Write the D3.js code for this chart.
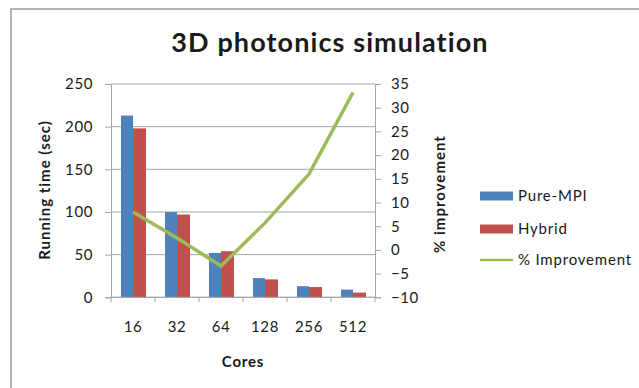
<!DOCTYPE html>
<html><head><meta charset="utf-8">
<script src="https://cdn.jsdelivr.net/npm/d3@7"></script>
<style>body{margin:0;background:#fff;} text{font-family:Lato,"Open Sans",sans-serif;fill:#1a1a1a;}</style>
</head><body>
<svg id="c" width="639" height="388"></svg>
<script>
const categories = ["16","32","64","128","256","512"];
const pureMPI = [213, 100, 52, 22.5, 13, 9];
const hybrid = [198, 97, 54, 21, 12, 5.5];
const improvement = [8, 2.5, -3.4, 5.7, 16, 33.2];
const leftTicks = [0,50,100,150,200,250];
const rightTicks = [-10,-5,0,5,10,15,20,25,30,35];
const seriesNames = ["Pure-MPI","Hybrid","% Improvement"];
const colors = ["#4F81BD","#C0504D","#9BBB59"];

const svg = d3.select("#c");
const L=111, R=375, T=84, B=297.3;
const x = d3.scaleBand().domain(categories).range([L,R]).padding(0);
const y = d3.scaleLinear().domain([0,250]).range([B,T]);
const y2 = d3.scaleLinear().domain([-10,35]).range([B,T]);

// frame
svg.append("path").attr("d","M11,388 L11,9 L639,9").attr("fill","none").attr("stroke","#b3b3b3").attr("stroke-width",2);

// gridlines
svg.append("g").selectAll("line").data(leftTicks).join("line")
  .attr("x1",L).attr("x2",R).attr("y1",d=>y(d)).attr("y2",d=>y(d))
  .attr("stroke","#a6a6a6").attr("stroke-width",1);

// bars
const bw = 12;
const gb = svg.append("g");
categories.forEach((c,i)=>{
  const cx = x(c)+x.bandwidth()/2;
  gb.append("rect").attr("x",cx-bw).attr("width",bw).attr("y",y(pureMPI[i])).attr("height",y(0)-y(pureMPI[i])).attr("fill",colors[0]);
  gb.append("rect").attr("x",cx).attr("width",bw+1).attr("y",y(hybrid[i])).attr("height",y(0)-y(hybrid[i])).attr("fill",colors[1]);
});

// axes
const axL = d3.axisLeft(y).tickValues(leftTicks).tickSize(6).tickPadding(12);
const gL = svg.append("g").attr("transform",`translate(${L},0)`).call(axL);
const axR = d3.axisRight(y2).tickValues(rightTicks).tickSize(6).tickPadding(10);
const gR = svg.append("g").attr("transform",`translate(${R},0)`).call(axR);
const axB = d3.axisBottom(x).tickSize(0).tickPadding(24);
const gB = svg.append("g").attr("transform",`translate(0,${B})`).call(axB);
// bottom ticks at band boundaries
svg.append("g").selectAll("line").data(categories.concat(["_end"])).join("line")
  .attr("x1",(d,i)=>L+i*x.bandwidth()).attr("x2",(d,i)=>L+i*x.bandwidth())
  .attr("y1",B).attr("y2",B+5).attr("stroke","#a6a6a6");
[gL,gR,gB].forEach(g=>{
  g.selectAll(".domain").attr("stroke","#a6a6a6");
  g.selectAll(".tick line").attr("stroke","#a6a6a6");
  g.selectAll("text").attr("font-size",15).attr("letter-spacing",0.6).attr("fill","#1a1a1a").attr("font-family","Lato");
});
gB.select(".domain").attr("d",`M${L},0H${R}`);

// line
const line = d3.line().x((d,i)=>x(categories[i])+x.bandwidth()/2).y(d=>y2(d));
svg.append("path").datum(improvement).attr("d",line).attr("fill","none")
  .attr("stroke",colors[2]).attr("stroke-width",3.5).attr("stroke-linejoin","miter");

// titles
svg.append("text").attr("x",330).attr("y",52).attr("text-anchor","middle")
  .attr("font-size",27).attr("letter-spacing",1.1).attr("font-weight","bold").attr("fill","#0d0d0d").text("3D photonics simulation");
svg.append("text").attr("transform","translate(50,190) rotate(-90)").attr("text-anchor","middle")
  .attr("font-size",15).attr("letter-spacing",1).attr("font-weight","bold").text("Running time (sec)");
svg.append("text").attr("transform","translate(445,194) rotate(-90)").attr("text-anchor","middle")
  .attr("font-size",15).attr("letter-spacing",1).attr("font-weight","bold").text("% improvement");
svg.append("text").attr("x",243).attr("y",367).attr("text-anchor","middle")
  .attr("font-size",15).attr("letter-spacing",0.8).attr("font-weight","bold").text("Cores");

// legend
const lg = svg.append("g");
const ly = [196, 229, 260];
seriesNames.forEach((n,i)=>{
  if(i<2) lg.append("rect").attr("x",480).attr("y",ly[i]-4.5).attr("width",33).attr("height",9).attr("fill",colors[i]);
  else lg.append("line").attr("x1",480).attr("x2",513).attr("y1",ly[i]).attr("y2",ly[i]).attr("stroke",colors[i]).attr("stroke-width",2.5);
  lg.append("text").attr("x",518).attr("y",ly[i]+5).attr("font-size",15).attr("letter-spacing",0.8).text(n);
});
</script>
</body></html>
